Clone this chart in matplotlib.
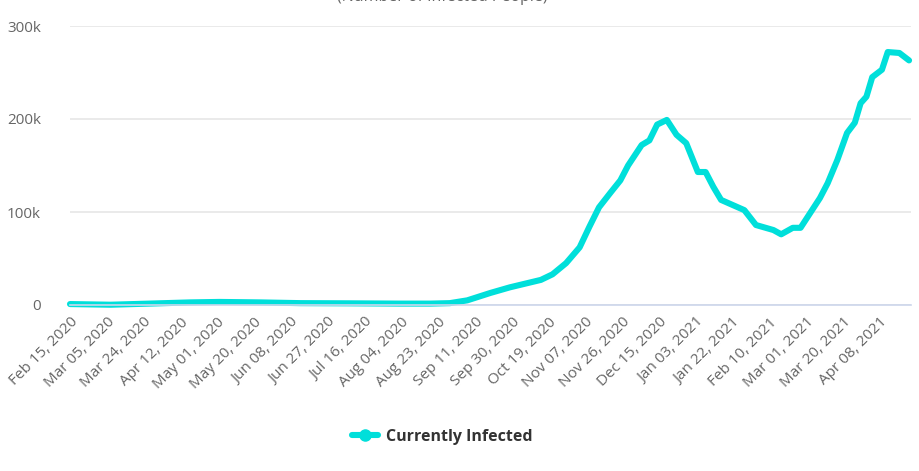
import numpy as np
import pandas as pd
import matplotlib
matplotlib.use("Agg")
import matplotlib.pyplot as plt

# Currently infected
dates = pd.to_datetime([
    "2020-02-15", "2020-03-07", "2020-03-27", "2020-04-17", "2020-05-02",
    "2020-05-23", "2020-06-13", "2020-07-08", "2020-08-03", "2020-08-19",
    "2020-08-29", "2020-09-07", "2020-09-19", "2020-09-29", "2020-10-06",
    "2020-10-15", "2020-10-21", "2020-10-28", "2020-11-04", "2020-11-09",
    "2020-11-14", "2020-11-20", "2020-11-25", "2020-11-29", "2020-12-06",
    "2020-12-10", "2020-12-14", "2020-12-19", "2020-12-24", "2020-12-29",
    "2021-01-04", "2021-01-08", "2021-01-12", "2021-01-16", "2021-01-22",
    "2021-01-28", "2021-02-03", "2021-02-12", "2021-02-16", "2021-02-22",
    "2021-02-26", "2021-03-03", "2021-03-08", "2021-03-12", "2021-03-17",
    "2021-03-22", "2021-03-26", "2021-03-29", "2021-04-01", "2021-04-04",
    "2021-04-09", "2021-04-12", "2021-04-18", "2021-04-23",
])
infected = [
    1000, 300, 1500, 2800, 3300,
    2800, 2000, 1800, 1500, 1500,
    2000, 5000, 13000, 19000, 22500,
    27000, 33000, 45000, 62000, 84000,
    105000, 121000, 134000, 150000, 172000,
    177000, 194000, 199000, 183000, 174000,
    143000, 143000, 127000, 113000, 107500,
    102000, 86000, 80600, 76000, 83000,
    83000, 99000, 115000, 131000, 156000,
    185000, 196000, 217000, 224000, 245000,
    253000, 272000, 271000, 263000,
]

tick_start = pd.Timestamp("2020-02-15")
tick_dates = [tick_start + pd.Timedelta(days=19 * i) for i in range(23)]
tick_labels = [d.strftime("%b %d, %Y") for d in tick_dates]
y_ticks = [0, 100000, 200000, 300000]
y_labels = ["0", "100k", "200k", "300k"]

plt.rcParams['font.family'] = ['Open Sans', 'DejaVu Sans']
line_col = '#00DFDA'

fig = plt.figure(figsize=(9.19, 4.71), dpi=100)
ax = fig.add_axes([70 / 919, 1 - 305 / 471, 841 / 919, 279 / 471])

ax.plot(dates, infected, color=line_col, lw=4.4, solid_joinstyle='round',
        solid_capstyle='round', label='Currently Infected', clip_on=False)

ax.set_xlim(pd.Timestamp("2020-02-15"), pd.Timestamp("2021-04-24"))
ax.set_ylim(0, 300000)

ax.set_yticks(y_ticks)
ax.set_yticklabels(y_labels, color='#666666', fontsize=11)
ax.set_xticks(tick_dates)
ax.set_xticklabels(tick_labels, rotation=45, ha='right', rotation_mode='anchor',
                   color='#666666', fontsize=11)
ax.tick_params(axis='y', length=0, pad=21)
ax.tick_params(axis='x', length=0, pad=7)

ax.grid(axis='y', color='#e6e6e6', lw=1.2)
ax.set_axisbelow(True)
for s in ['top', 'right', 'left']:
    ax.spines[s].set_visible(False)
ax.spines['bottom'].set_color('#ccd6eb')
ax.spines['bottom'].set_linewidth(1.2)

# subtitle, cut off at the top like in the original
fig.text(442 / 919, 1 - 1 / 471, "(Number of Infected People)", ha='center',
         va='baseline', color='#666666', fontsize=11.5)

h, l = ax.get_legend_handles_labels()
leg = fig.legend(h, l, loc='center', bbox_to_anchor=(442 / 919, 1 - 437 / 471),
                 frameon=False, handlelength=1.6, handletextpad=0.5,
                 prop={'weight': 'bold', 'size': 11.5})
for t in leg.get_texts():
    t.set_color('#333333')
for lh in leg.get_lines():
    lh.set_marker('o')
    lh.set_markersize(8)
    lh.set_markerfacecolor(line_col)
    lh.set_markeredgecolor(line_col)

fig.savefig("out.png", dpi=100)
